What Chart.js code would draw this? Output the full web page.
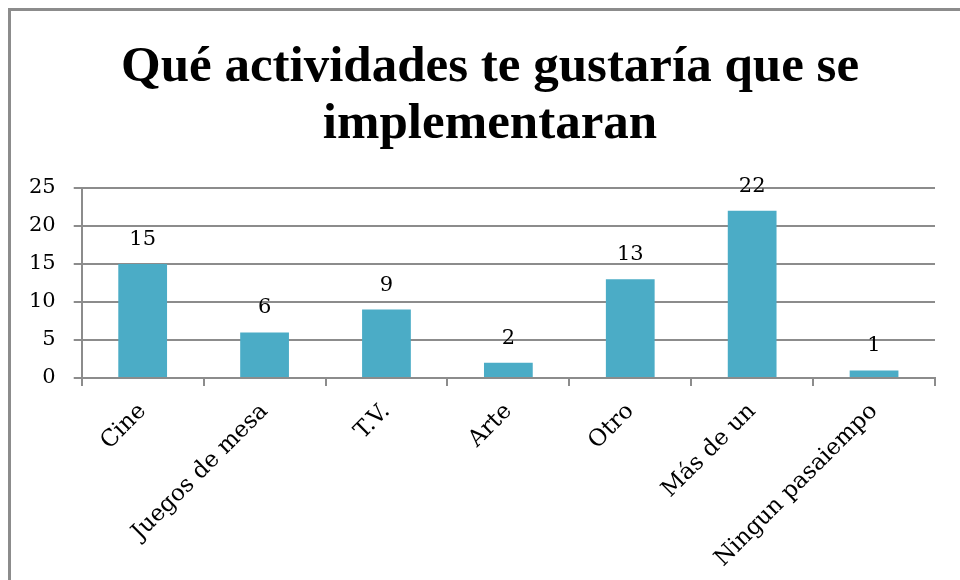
<!DOCTYPE html>
<html>
<head>
<meta charset="utf-8">
<script src="https://cdn.jsdelivr.net/npm/chart.js@4"></script>
<style>
  body { margin: 0; background: #fff; }
  #frame {
    position: absolute; left: 8px; top: 8px; width: 960px; height: 580px;
    border-left: 3px solid #8c8c8c; border-top: 3px solid #8c8c8c;
  }
  #title {
    position: absolute; left: 0; top: 36px; width: 980px; text-align: center;
    font: bold 51px/57px "Liberation Serif", serif; color: #000;
  }
  #wrap { position: absolute; left: 0; top: 0; width: 960px; height: 580px; }
</style>
</head>
<body>
<div id="frame"></div>
<div id="title">Qué actividades te gustaría que se<br>implementaran</div>
<div id="wrap"><canvas id="chart"></canvas></div>
<script>
// Chart data
const categories = ['Cine', 'Juegos de mesa', 'T.V.', 'Arte', 'Otro', 'Más de un', 'Ningun pasaiempo'];
const values = [15, 6, 9, 2, 13, 22, 1];
const yTicks = [0, 5, 10, 15, 20, 25];

const barColor = '#4BACC6';
const gridColor = '#8c8c8c';
const tickFont = { family: '"DejaVu Serif", serif', size: 21 };
const catFont = { family: '"DejaVu Serif", serif', size: 23 };

// Draws the value above every bar
const valueLabels = {
  id: 'valueLabels',
  afterDatasetsDraw(chart) {
    const ctx = chart.ctx;
    ctx.save();
    ctx.font = `${tickFont.size}px ${tickFont.family}`;
    ctx.fillStyle = '#000';
    ctx.textAlign = 'center';
    ctx.textBaseline = 'alphabetic';
    chart.getDatasetMeta(0).data.forEach((bar, i) => {
      ctx.fillText(values[i], bar.x, bar.y - 19);
    });
    ctx.restore();
  }
};

new Chart(document.getElementById('chart'), {
  type: 'bar',
  data: {
    labels: categories,
    datasets: [{
      data: values,
      backgroundColor: barColor,
      barPercentage: 0.4,
      categoryPercentage: 1
    }]
  },
  options: {
    responsive: true,
    maintainAspectRatio: false,
    animation: false,
    layout: { padding: { top: 188, left: 11, right: 25, bottom: 12 } },
    plugins: {
      legend: { display: false },
      tooltip: { enabled: false },
      title: { display: false }
    },
    scales: {
      x: {
        grid: { offset: true, drawOnChartArea: false, drawTicks: true, tickLength: 8, color: gridColor, lineWidth: 2 },
        border: { color: gridColor, width: 2 },
        ticks: { color: '#000', font: catFont, minRotation: 45, maxRotation: 45, padding: 12 }
      },
      y: {
        min: 0,
        max: 25,
        afterBuildTicks: scale => { scale.ticks = yTicks.map(v => ({ value: v })); },
        grid: { color: gridColor, lineWidth: 2, tickLength: 8 },
        border: { color: gridColor, width: 2 },
        ticks: { color: '#000', font: tickFont, padding: 18 }
      }
    }
  },
  plugins: [valueLabels]
});
</script>
</body>
</html>
